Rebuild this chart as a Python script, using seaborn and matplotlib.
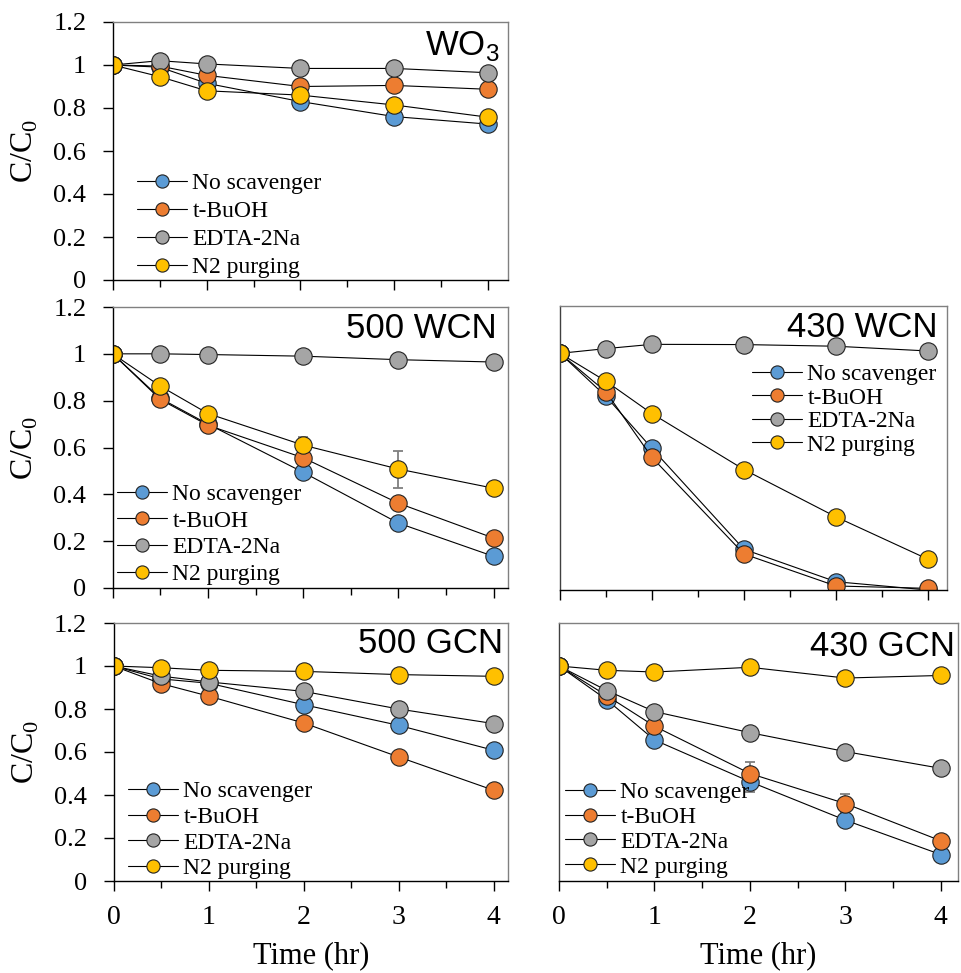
import numpy as np
import pandas as pd
import matplotlib
matplotlib.use("Agg")
import matplotlib.pyplot as plt
import seaborn as sns
from matplotlib.ticker import MultipleLocator, FixedLocator, FixedFormatter

# ---------------- data ----------------
time = [0, 0.5, 1, 2, 3, 4]
series = ["No scavenger", "t-BuOH", "EDTA-2Na", "N2 purging"]
colors = ["#5B9BD5", "#ED7D31", "#A5A5A5", "#FFC000"]

wo3_none = [1.0, 0.99, 0.915, 0.83, 0.76, 0.725]
wo3_tbuoh = [1.0, 0.995, 0.952, 0.90, 0.905, 0.887]
wo3_edta = [1.0, 1.02, 1.005, 0.984, 0.984, 0.964]
wo3_n2 = [1.0, 0.946, 0.88, 0.86, 0.814, 0.757]

wcn500_none = [1.0, 0.81, 0.70, 0.494, 0.277, 0.135]
wcn500_tbuoh = [1.0, 0.805, 0.695, 0.556, 0.362, 0.213]
wcn500_edta = [1.0, 1.0, 0.997, 0.99, 0.975, 0.965]
wcn500_n2 = [1.0, 0.862, 0.745, 0.61, 0.508, 0.426]
wcn500_n2_err = [0, 0, 0, 0.035, 0.079, 0]

wcn430_none = [1.0, 0.818, 0.598, 0.172, 0.035, 0.0]
wcn430_tbuoh = [1.0, 0.837, 0.56, 0.152, 0.017, 0.007]
wcn430_edta = [1.0, 1.02, 1.038, 1.037, 1.03, 1.01]
wcn430_n2 = [1.0, 0.882, 0.745, 0.509, 0.309, 0.13]
wcn430_n2_err = [0, 0, 0, 0.02, 0, 0]

gcn500_none = [1.0, 0.94, 0.92, 0.82, 0.724, 0.608]
gcn500_tbuoh = [1.0, 0.918, 0.86, 0.735, 0.577, 0.422]
gcn500_edta = [1.0, 0.953, 0.926, 0.882, 0.80, 0.732]
gcn500_n2 = [1.0, 0.992, 0.98, 0.975, 0.96, 0.952]

gcn430_none = [1.0, 0.843, 0.656, 0.462, 0.283, 0.123]
gcn430_tbuoh = [1.0, 0.862, 0.72, 0.50, 0.36, 0.187]
gcn430_edta = [1.0, 0.886, 0.788, 0.69, 0.602, 0.524]
gcn430_n2 = [1.0, 0.98, 0.972, 0.994, 0.944, 0.956]
gcn430_none_err = [0, 0, 0, 0.05, 0, 0]
gcn430_tbuoh_err = [0, 0, 0, 0.055, 0.043, 0]

ytick_vals = [0, 0.2, 0.4, 0.6, 0.8, 1.0, 1.2]
ytick_labels = ["0", "0.2", "0.4", "0.6", "0.8", "1", "1.2"]
xtick_vals = [0, 1, 2, 3, 4]
xtick_labels = ["0", "1", "2", "3", "4"]

# ---------------- style ----------------
sns.set_style("ticks")
plt.rcParams["font.family"] = ["Liberation Serif", "DejaVu Serif"]
plt.rcParams["axes.linewidth"] = 1.0
for k in ["text.color", "axes.labelcolor", "xtick.color", "ytick.color", "axes.edgecolor"]:
    plt.rcParams[k] = "black"

W, H = 961, 973
fig = plt.figure(figsize=(W / 100, H / 100), dpi=100)


def rect(l, t, r, b):
    return [l / W, 1 - b / H, (r - l) / W, (b - t) / H]


def fx(px):
    return px / W


def fy(py):
    return 1 - py / H


panels = [
    dict(r=rect(112.7, 22, 508, 280), xmax=4.21, title="WO$_\\mathregular{3}$",
         tpos=(500, 55), leg=(137, 172.5), ls=0.28, ylab=True, xlab=False,
         data=[wo3_none, wo3_tbuoh, wo3_edta, wo3_n2], err={}),
    dict(r=rect(112.7, 307, 508, 588), xmax=4.15, title="500 WCN",
         tpos=(497, 338), leg=(117, 483.5), ls=0.22, ylab=True, xlab=False,
         data=[wcn500_none, wcn500_tbuoh, wcn500_edta, wcn500_n2],
         err={3: wcn500_n2_err}),
    dict(r=rect(560, 306, 947, 590), xmax=4.207, title="430 WCN",
         tpos=(938, 337), leg=(752, 363.5), ls=0.085, ylab=False, xlab=False,
         data=[wcn430_none, wcn430_tbuoh, wcn430_edta, wcn430_n2],
         err={3: wcn430_n2_err}),
    dict(r=rect(113.5, 623, 508, 881), xmax=4.15, title="500 GCN",
         tpos=(503, 653), leg=(128, 780.5), ls=0.18, ylab=True, xlab=True,
         data=[gcn500_none, gcn500_tbuoh, gcn500_edta, gcn500_n2], err={}),
    dict(r=rect(559, 623, 958, 881), xmax=4.18, title="430 GCN",
         tpos=(955, 656), leg=(565, 781.5), ls=0.14, ylab=False, xlab=True,
         data=[gcn430_none, gcn430_tbuoh, gcn430_edta, gcn430_n2],
         err={0: gcn430_none_err, 1: gcn430_tbuoh_err}),
]

for p in panels:
    ax = fig.add_axes(p["r"])
    for i, (name, col, vals) in enumerate(zip(series, colors, p["data"])):
        df = pd.DataFrame({"Time": time, "C": vals})
        if i in p["err"]:
            ax.errorbar(time, vals, yerr=p["err"][i], fmt="none", ecolor="#7f7f7f",
                        elinewidth=1.3, capsize=3.5, capthick=1.3, zorder=1.5 + i * 0.1)
        sns.lineplot(data=df, x="Time", y="C", ax=ax, color="black", linewidth=0.8,
                     marker="o", markersize=12.5, markerfacecolor=col,
                     markeredgecolor="#222222", markeredgewidth=0.8,
                     errorbar=None, label=name, zorder=2 + i * 0.1)
    ax.set_xlim(0, p["xmax"])
    ax.set_ylim(0, 1.2)
    ax.xaxis.set_major_locator(FixedLocator(xtick_vals))
    ax.xaxis.set_minor_locator(MultipleLocator(0.5))
    ax.tick_params(axis="x", which="major", direction="out", length=7, width=1.0,
                   color="black", pad=10, labelsize=20, labelcolor="black")
    ax.tick_params(axis="x", which="minor", direction="out", length=5, width=1.0,
                   color="black")
    if p["xlab"]:
        ax.set_xticklabels(xtick_labels)
        ax.set_xlabel("Time (hr)", fontsize=22, color="black")
        ax.xaxis.set_label_coords(0.5, -0.235)
        ax.xaxis.label.set_va("top")
    else:
        ax.set_xticklabels([])
        ax.set_xlabel("")
    if p["ylab"]:
        ax.yaxis.set_major_locator(FixedLocator(ytick_vals))
        ax.yaxis.set_major_formatter(FixedFormatter(ytick_labels))
        ax.tick_params(axis="y", direction="out", length=7, width=1.0,
                       color="black", pad=12, labelsize=19, labelcolor="black")
        ax.set_ylabel("C/C$_\\mathregular{0}$", fontsize=23, color="black")
        ax.yaxis.set_label_coords(-0.185, 0.5)
    else:
        ax.set_yticks([])
        ax.set_ylabel("")
    for s in ["top", "right"]:
        ax.spines[s].set_color("#808080")
        ax.spines[s].set_linewidth(1.0)
    ax.spines["bottom"].set_color("black")
    ax.spines["left"].set_color("black" if p["ylab"] else "#404040")
    for s in ax.spines.values():
        s.set_visible(True)

    leg = ax.legend(loc="upper left", bbox_to_anchor=(fx(p["leg"][0]), fy(p["leg"][1])),
                    bbox_transform=fig.transFigure, frameon=False, fontsize=17,
                    handlelength=2.1, handletextpad=0.25, labelspacing=p["ls"],
                    borderpad=0, borderaxespad=0, labelcolor="black")
    for h in leg.legend_handles:
        h.set_markersize(9.5)

    fig.text(fx(p["tpos"][0]), fy(p["tpos"][1]), p["title"], ha="right", va="baseline",
             fontsize=25, color="black", family=["Liberation Sans", "DejaVu Sans"])

fig.savefig("out.png", dpi=100)
